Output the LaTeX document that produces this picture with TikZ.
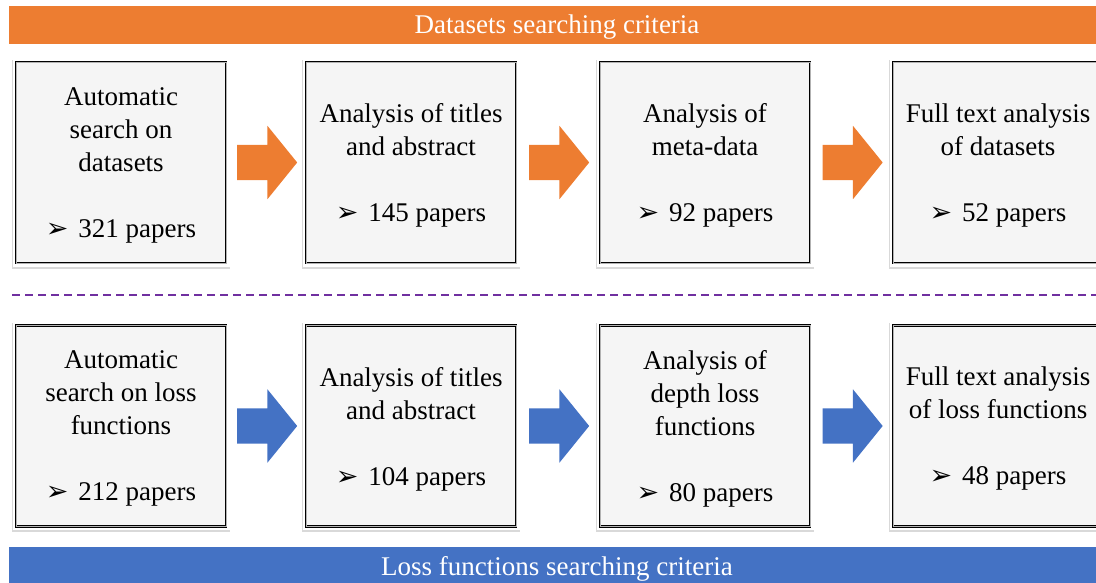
\documentclass[tikz,border=0pt]{standalone}
\usepackage{fontspec}
\setmainfont{Liberation Serif}
\newfontfamily\dingfont{DejaVu Sans}
\usepackage{tikz}
\usetikzlibrary{shapes.arrows, shadows, calc, positioning}

\definecolor{dsorange}{HTML}{ED7D31}
\definecolor{lfblue}{HTML}{4472C4}
\definecolor{seppurple}{HTML}{7030A0}
\definecolor{boxgray}{HTML}{F5F5F5}

\newcommand{\papers}[1]{{\dingfont\fontsize{27}{24}\selectfont ➢}\hspace{10pt}#1 papers}

\begin{document}
\begin{tikzpicture}[x=1pt, y=-1pt,
  stepbox/.style={rectangle, draw=black, double=gray!60, double distance=0.7pt, line width=0.9pt,
    fill=boxgray, minimum width=210pt, minimum height=201pt, inner sep=0pt, align=center,
    text depth=0pt, font=\fontsize{27}{33}\selectfont,
    drop shadow={shadow xshift=0pt, shadow yshift=-1.5pt, shadow scale=1.04, opacity=0.3},
    preaction={draw=white, line width=7pt}},
  fatarrow/.style={single arrow, draw=none, minimum height=60pt, minimum width=73pt,
    text height=17.5pt, text depth=17.5pt, text width=0pt, xshift=-6pt,
    single arrow head extend=19pt, single arrow tip angle=102, inner sep=0pt},
  bar/.style={rectangle, minimum width=1096pt, minimum height=38pt, inner sep=0pt,
    text height=18pt, text depth=0pt, text=white, font=\fontsize{27}{33}\selectfont}]
\useasboundingbox (0,0) rectangle (1096,583);
% Title bars
\node[bar, fill=dsorange] (dstitle) at (557,25) {Datasets searching criteria}; % Top
\node[bar, fill=lfblue] (lftitle) at (557,566) {Loss functions searching criteria}; % Bottom
% Datasets row
\node[stepbox] (d1) at (121,162.5) {Automatic\\search on\\datasets\\[33pt]\papers{321}};
\node[stepbox] (d2) at (411,162.5) {Analysis of titles\\and abstract\\[33pt]\papers{145}};
\node[stepbox] (d3) at (705,162.5) {Analysis of\\meta-data\\[33pt]\papers{92}};
\node[stepbox] (d4) at (998,162.5) {Full text analysis\\of datasets\\[33pt]\papers{52}};
% Separator
\coordinate (sepL) at (12,295);
\coordinate (sepR) at (1100,295);
\draw[seppurple, line width=1.8pt, dash pattern=on 8pt off 5pt] (sepL) -- (sepR);
% Loss functions row
\node[stepbox] (l1) at (121,426) {Automatic\\search on loss\\functions\\[33pt]\papers{212}};
\node[stepbox] (l2) at (411,426) {Analysis of titles\\and abstract\\[33pt]\papers{104}};
\node[stepbox] (l3) at (705,426) {Analysis of\\depth loss\\functions\\[33pt]\papers{80}};
\node[stepbox] (l4) at (998,426) {Full text analysis\\of loss functions\\[33pt]\papers{48}};
% Block arrows between the steps
\foreach \a/\b in {d1/d2, d2/d3, d3/d4}
  \node[fatarrow, fill=dsorange] (arr-\a) at ($(\a.east)!0.5!(\b.west)$) {};
\foreach \a/\b in {l1/l2, l2/l3, l3/l4}
  \node[fatarrow, fill=lfblue] (arr-\a) at ($(\a.east)!0.5!(\b.west)$) {};
\end{tikzpicture}
\end{document}
